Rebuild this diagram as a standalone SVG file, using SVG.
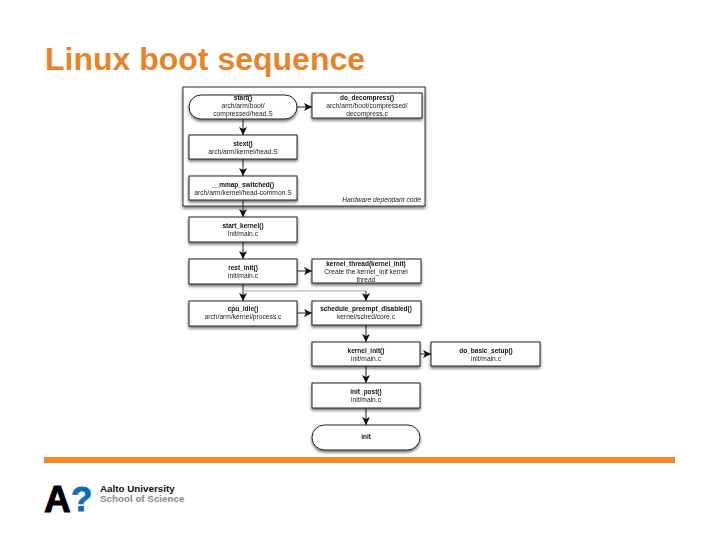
<svg xmlns="http://www.w3.org/2000/svg" width="720" height="540" viewBox="0 0 720 540">
<style>
.t{font-family:"Liberation Sans",Arial,sans-serif;font-size:6.7px;fill:#222;text-anchor:middle}
.b{font-weight:bold;font-size:6.5px;fill:#111}
.n{fill:#fff;stroke:#222;stroke-width:1;filter:url(#sh)}
.c{fill:none;stroke:#222;stroke-width:1;marker-end:url(#a)}
</style>
<defs>
<filter id="sh" x="-10%" y="-20%" width="120%" height="150%"><feDropShadow dx="0" dy="2" stdDeviation="1.5" flood-color="#000" flood-opacity="0.55"/></filter>
<filter id="soft" x="-2%" y="-2%" width="104%" height="104%"><feGaussianBlur stdDeviation="0.45"/></filter>
<marker id="a" markerWidth="9" markerHeight="9" refX="8" refY="4.5" orient="auto" markerUnits="userSpaceOnUse"><path d="M0 0.5L8 4.5L0 8.5L2 4.5Z" fill="#111"/></marker>
</defs>
<rect width="720" height="540" fill="#fff"/>
<text x="45" y="70" font-family="'Liberation Sans',Arial,sans-serif" font-size="32" font-weight="bold" fill="#e9832a">Linux boot sequence</text>
<g filter="url(#soft)">
<rect id="firmware-box" x="183" y="87" width="242" height="119" fill="#fff" stroke="#333" stroke-width="1" style="filter:url(#sh)"/>
<g id="connectors">
<path class="c" d="M243 119V135"/><path class="c" d="M243 159V176"/><path class="c" d="M243 200V217"/>
<path class="c" d="M243 242V259"/><path class="c" d="M243 284V301"/>
<path class="c" d="M297 107H312"/><path class="c" d="M297 271H312"/><path class="c" d="M297 313H312"/>
<path d="M243 291H366" fill="none" stroke="#aaa" stroke-width="1"/><path class="c" d="M366 291V301"/>
<path class="c" d="M366 325V342"/><path class="c" d="M420 354H431"/><path class="c" d="M366 366V383"/><path class="c" d="M366 408V425"/>
</g>
<g id="start"><rect class="n" x="189" y="95" width="108" height="24" rx="12" ry="12"/><text class="t b" x="243" y="100">start()</text><text class="t" x="243" y="108">arch/arm/boot/</text><text class="t" x="243" y="116">compressed/head.S</text></g>
<g id="do_decompress"><rect class="n" x="312" y="93" width="110" height="25"/><text class="t b" x="367" y="100">do_decompress()</text><text class="t" x="367" y="108">arch/arm/boot/compressed/</text><text class="t" x="367" y="116">decompress.c</text></g>
<g id="stext"><rect class="n" x="189" y="135" width="108" height="24"/><text class="t b" x="243" y="146">stext()</text><text class="t" x="243" y="154">arch/arm/kernel/head.S</text></g>
<g id="mmap"><rect class="n" x="189" y="176" width="108" height="24"/><text class="t b" x="243" y="187">__mmap_switched()</text><text class="t" x="243" y="195">arch/arm/kernel/head-common.S</text></g>
<text class="t" x="421" y="202" style="text-anchor:end;font-style:italic">Hardware dependant code</text>
<g id="start_kernel"><rect class="n" x="189" y="217" width="108" height="25"/><text class="t b" x="243" y="228">start_kernel()</text><text class="t" x="243" y="236">init/main.c</text></g>
<g id="rest_init"><rect class="n" x="189" y="259" width="108" height="25"/><text class="t b" x="243" y="270">rest_init()</text><text class="t" x="243" y="278">init/main.c</text></g>
<g id="kernel_thread"><rect class="n" x="312" y="259" width="109" height="24"/><text class="t b" x="366" y="266">kernel_thread(kernel_init)</text><text class="t" x="366" y="274">Create the kernel_init kernel</text><text class="t" x="366" y="282">thread</text></g>
<g id="cpu_idle"><rect class="n" x="189" y="301" width="108" height="25"/><text class="t b" x="243" y="311">cpu_idle()</text><text class="t" x="243" y="319">arch/arm/kernel/process.c</text></g>
<g id="schedule"><rect class="n" x="312" y="301" width="109" height="24"/><text class="t b" x="366" y="311">schedule_preempt_disabled()</text><text class="t" x="366" y="319">kernel/sched/core.c</text></g>
<g id="kernel_init"><rect class="n" x="312" y="342" width="108" height="24"/><text class="t b" x="366" y="353">kernel_init()</text><text class="t" x="366" y="361">init/main.c</text></g>
<g id="do_basic_setup"><rect class="n" x="431" y="342" width="109" height="24"/><text class="t b" x="486" y="353">do_basic_setup()</text><text class="t" x="486" y="361">init/main.c</text></g>
<g id="init_post"><rect class="n" x="312" y="383" width="108" height="25"/><text class="t b" x="366" y="394">init_post()</text><text class="t" x="366" y="402">init/main.c</text></g>
<g id="init"><rect class="n" x="312" y="425" width="108" height="25" rx="12.5" ry="12.5"/><text class="t b" x="366" y="439">init</text></g>
</g>
<rect x="44" y="457" width="631" height="6" fill="#ef8a2c"/>
<text x="44" y="512" font-family="'Liberation Sans',Arial,sans-serif" font-size="37" font-weight="bold" fill="#000" stroke="#000" stroke-width="1">A</text>
<text x="71" y="511" font-family="'Liberation Sans',Arial,sans-serif" font-size="35" font-weight="bold" fill="#0c6eb4" stroke="#0c6eb4" stroke-width="0.8">?</text>
<text x="100" y="492" font-family="'Liberation Sans',Arial,sans-serif" font-size="9.8" font-weight="bold" fill="#111">Aalto University</text>
<text x="100" y="502" font-family="'Liberation Sans',Arial,sans-serif" font-size="9.8" font-weight="bold" fill="#8a8a8a">School of Science</text>
</svg>
